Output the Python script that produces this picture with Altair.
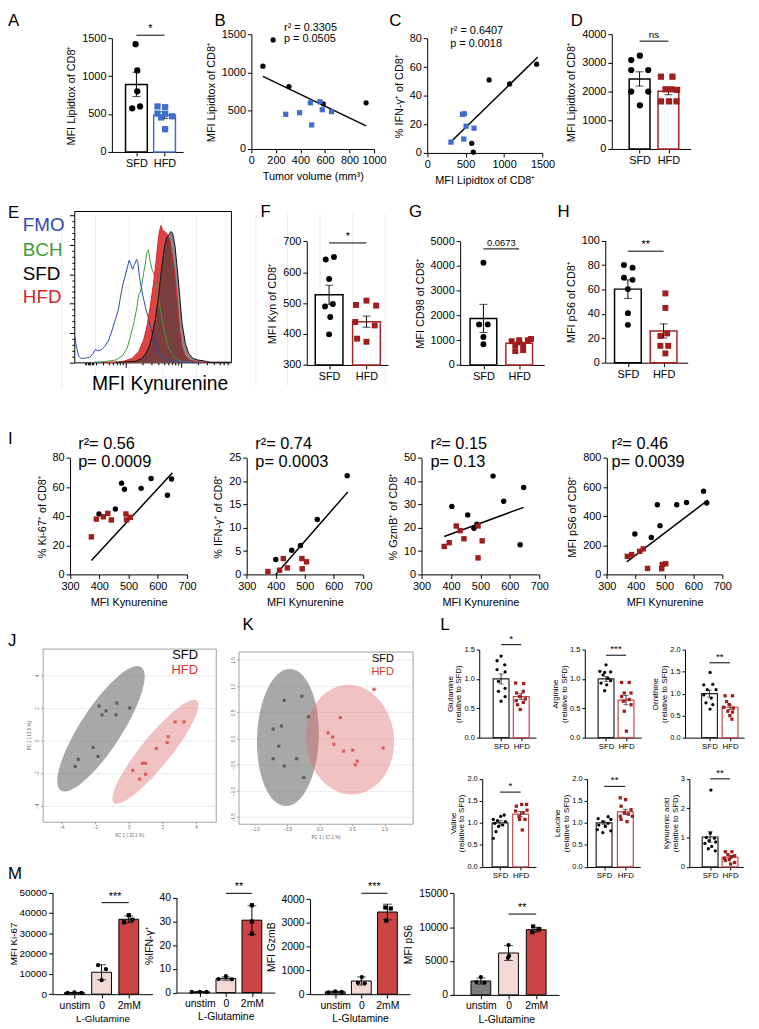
import json
import altair as alt
import pandas as pd

OFF = 8
W, H = 751, 1021
FONT = "Liberation Sans"
BLUE = "#3f6fcb"
DRED = "#a01d1d"
HRED = "#a82525"
LRED = "#c04848"

CATS2 = ["SFD", "HFD"]
CATS3 = ["unstim", "0", "2mM"]

# ---------------- A ----------------
A_means = [890, 485]
A_sems = [160, 45]
A_sfd_off = [-0.03, 0.03, 0.03, -0.15, 0.13]
A_sfd_val = [1420, 1075, 800, 575, 600]
A_hfd_off = [-0.25, 0.02, -0.25, 0.02, 0.27, -0.12, 0.02]
A_hfd_val = [600, 590, 505, 500, 470, 455, 300]

# ---------------- B ----------------
B_sfd_x = [94, 177, 306, 586, 935]
B_sfd_y = [1082, 1426, 815, 591, 604]
B_hfd_x = [280, 393, 481, 492, 559, 578, 653]
B_hfd_y = [453, 474, 604, 314, 617, 513, 487]
B_fit_x = [94, 935]
B_fit_y = [948, 302]

# ---------------- C ----------------
C_sfd_x = [805, 1072, 1423, 579, 600]
C_sfd_y = [51.0, 48.2, 62.0, 6.7, 0.5]
C_hfd_x = [309, 458, 484, 506, 476, 609]
C_hfd_y = [7.6, 27.0, 27.4, 18.7, 9.7, 17.3]
C_fit_x = [309, 1436]
C_fit_y = [7.8, 66.9]

# ---------------- D ----------------
D_means = [2440, 2010]
D_sems = [250, 120]
D_sfd_off = [0.01, -0.29, -0.29, 0.3, -0.29, 0.3, 0.01]
D_sfd_val = [3250, 3100, 2750, 2750, 2000, 2000, 1520]
D_hfd_off = [-0.26, 0.14, -0.1, 0.1, 0.3, -0.26, 0.02, 0.28]
D_hfd_val = [2520, 2520, 2080, 2080, 2060, 1660, 1660, 1660]

# ---------------- E (histogram, channel units / counts) ----------------
E_fmo_x = [46, 50, 58, 65, 78, 92, 102, 108, 118, 128, 138, 148, 158, 168, 178, 185, 192, 200,
           207, 211, 216, 222, 228, 234, 238, 243, 252, 262, 272, 280, 290, 300, 312, 325, 345,
           380, 420, 470, 518]
E_fmo_c = [82, 57, 19, 12, 13, 15, 27, 39, 35, 39, 49, 65, 92, 125, 157, 197, 235, 265, 292,
           309, 299, 282, 297, 312, 302, 257, 207, 162, 127, 92, 57, 32, 17, 9, 4, 1, 0, 0, 0]
E_bch_x = [100, 140, 170, 190, 205, 215, 225, 235, 240, 245, 250, 255, 260, 265, 270, 275, 280,
           285, 290, 300, 310, 320, 330, 345, 360, 380, 420, 518]
E_bch_c = [0, 3, 7, 19, 42, 77, 117, 167, 202, 212, 235, 269, 297, 332, 342, 307, 285, 272, 257,
           197, 137, 87, 47, 17, 7, 1, 0, 0]
E_hfd_x = [130, 190, 220, 240, 255, 265, 275, 285, 292, 298, 303, 308, 313, 320, 328, 335, 342,
           350, 358, 365, 372, 382, 395, 420, 460, 518]
E_hfd_c = [0, 2, 12, 32, 67, 107, 167, 237, 297, 357, 397, 415, 399, 397, 387, 372, 327, 267,
           177, 97, 47, 19, 7, 1, 0, 0]
E_sfd_x = [170, 230, 250, 262, 272, 280, 290, 300, 310, 318, 325, 333, 338, 343, 350, 358, 365,
           372, 382, 392, 405, 420, 435, 445, 460, 518]
E_sfd_c = [0, 3, 12, 27, 47, 77, 127, 197, 287, 347, 377, 389, 397, 392, 357, 277, 197, 117, 57,
           27, 12, 7, 5, 3, 0, 0]
E_y_major = [0, 89, 178, 267, 356, 445]
E_y_minor = [18, 36, 53, 71, 107, 125, 142, 160, 196, 214, 231, 249, 285, 303, 320, 338, 374,
             392, 409, 427]
E_x_major = [200, 368]
E_x_minor = [78, 82, 86, 90, 94, 98, 102, 112, 133, 149, 163, 174, 184, 192, 251, 280, 301, 317,
             331, 342, 352, 360, 419, 448, 469, 485, 499, 510]

# ---------------- F / G / H ----------------
F_means = [527, 440]
F_sems = [31, 18]
F_sfd_off = [-0.09, 0.13, 0.0, -0.11, 0.1, 0.03, 0.0]
F_sfd_val = [641, 649, 578, 489, 497, 455, 399]
F_hfd_off = [-0.28, 0.0, -0.3, 0.26, 0.22, -0.25, 0.0]
F_hfd_val = [494, 508, 439, 492, 428, 385, 375]

G_means = [1880, 880]
G_sems = [570, 70]
G_sfd_off = [0.0, -0.12, 0.12, 0.0, 0.0]
G_sfd_val = [4130, 1640, 1640, 1130, 840]
G_hfd_off = [-0.21, 0.0, 0.24, -0.11, 0.11, -0.11, 0.11, 0.33]
G_hfd_val = [960, 1000, 1000, 800, 800, 560, 600, 1050]

H_means = [60.3, 26.0]
H_sems = [7.6, 5.8]
H_sfd_off = [-0.11, 0.13, -0.11, 0.13, 0.0, 0.0, 0.0]
H_sfd_val = [80, 77.9, 69.7, 67.9, 60.3, 40.6, 31]
H_hfd_off = [0.05, 0.05, 0.1, -0.09, -0.09, 0.13, 0.05]
H_hfd_val = [56.8, 44.9, 24, 21.9, 13.8, 13.8, 7.6]

# ---------------- I ----------------
I1_sfd_x = [476, 486, 543, 577, 647, 633, 455, 399]
I1_sfd_y = [62.7, 58.5, 59.1, 65.9, 65.5, 54.4, 44.9, 41.5]
I1_hfd_x = [373, 390, 414, 429, 441, 491, 493, 506]
I1_hfd_y = [25.8, 38, 39.6, 41.9, 37.4, 41.5, 37.4, 39.2]
I1_fit_x = [373, 650]
I1_fit_y = [9.5, 69.8]

I2_sfd_x = [646, 543, 485, 455, 400]
I2_sfd_y = [21.2, 11.8, 6.2, 5.2, 3.2]
I2_hfd_x = [373, 413, 426, 440, 490, 491, 506]
I2_hfd_y = [0.6, 0.9, 3.4, 1.4, 3.4, 1.2, 2.7]
I2_fit_x = [400, 648]
I2_fit_y = [0, 17.7]

I3_sfd_x = [543, 579, 647, 403, 457, 488, 478, 635]
I3_sfd_y = [42.2, 31.4, 37.3, 29.2, 25.5, 21.5, 19.8, 12.7]
I3_hfd_x = [377, 394, 418, 431, 444, 492, 506, 492]
I3_hfd_y = [12.0, 13.6, 20.8, 18.8, 15.3, 20.8, 14.4, 7.1]
I3_fit_x = [377, 647]
I3_fit_y = [16.3, 28.8]

I4_sfd_x = [635, 646, 576, 542, 475, 484, 454, 397]
I4_sfd_y = [571, 491, 494, 478, 478, 335, 254, 277]
I4_hfd_x = [371, 386, 414, 426, 441, 490, 492, 504]
I4_hfd_y = [124, 136, 158, 175, 41, 39, 68, 73]
I4_fit_x = [369, 650]
I4_fit_y = [86, 510]

# ---------------- J / K (PCA) ----------------
J_gray_x = [-1.76, -0.71, -1.35, -1.59, -0.76, 0.06, -2.12, -1.82, -3.0, -3.18]
J_gray_y = [2.12, 2.3, 1.82, 1.58, 1.58, 2.0, -0.42, -0.97, -1.15, -1.58]
J_pink_x = [2.76, 3.29, 2.35, 2.29, 1.65, 0.82, 1.0, 0.24, 1.0, 0.65]
J_pink_y = [1.15, 1.15, 0.24, -0.12, -0.48, -1.39, -1.39, -1.82, -2.06, -2.36]
J_ell_cx = [-1.65, 1.59]
J_ell_cy = [0.73, -0.68]

K_gray_x = [-0.545, -0.275, -0.173, -0.718, -0.590, -0.630, -0.718, -0.355, -0.545, -0.244]
K_gray_y = [0.73, 0.81, 0.415, 0.183, 0.240, -0.145, -0.383, -0.383, -0.523, -0.742]
K_pink_x = [0.84, 0.32, 0.13, 0.20, 0.22, 0.37, 0.51, 0.98, 0.58, 0.55]
K_pink_y = [0.94, 0.40, 0.11, 0.03, -0.11, -0.24, -0.22, -0.18, -0.43, -0.50]
K_ell_cx = [-0.49, 0.47]
K_ell_cy = [0.02, -0.02]

# ---------------- L ----------------
Glu_means, Glu_sems = [1.0, 0.70], [0.085, 0.05]
Glu_sfd_off = [0, -0.2, 0.18, -0.2, 0.2, -0.13, 0.2, -0.13, 0.2, 0]
Glu_sfd_val = [1.39, 1.31, 1.24, 1.16, 1.12, 0.96, 0.84, 0.79, 0.70, 0.62]
Glu_hfd_off = [-0.28, 0.12, 0.1, -0.23, -0.08, 0.2, -0.25, 0.1, -0.18, -0.05]
Glu_hfd_val = [0.93, 0.92, 0.79, 0.76, 0.70, 0.66, 0.63, 0.60, 0.56, 0.48]

Arg_means, Arg_sems = [1.0, 0.64], [0.04, 0.08]
Arg_sfd_off = [0, -0.31, -0.07, 0.23, -0.15, 0.1, 0.23, -0.25, 0.03, -0.07]
Arg_sfd_val = [1.24, 1.13, 1.11, 1.12, 1.07, 1.01, 0.97, 0.93, 0.90, 0.80]
Arg_hfd_off = [-0.22, 0.16, -0.09, 0.25, -0.22, 0.16, -0.13, 0.25, -0.09, 0.02]
Arg_hfd_val = [0.94, 0.94, 0.76, 0.76, 0.70, 0.65, 0.62, 0.56, 0.45, 0.11]

Orn_means, Orn_sems = [1.0, 0.69], [0.08, 0.05]
Orn_sfd_off = [0.03, -0.28, 0.16, -0.11, 0.32, -0.27, 0.09, -0.17, 0.16, 0.03]
Orn_sfd_val = [1.48, 1.20, 1.21, 1.09, 1.09, 0.97, 0.90, 0.79, 0.75, 0.65]
Orn_hfd_off = [-0.24, 0.12, -0.17, -0.04, -0.31, 0.16, -0.11, 0.12, -0.01, 0.09]
Orn_hfd_val = [0.95, 0.95, 0.82, 0.75, 0.69, 0.67, 0.60, 0.58, 0.50, 0.42]

Val_means, Val_sems = [1.0, 1.2], [0.05, 0.06]
Val_sfd_off = [0.2, 0.03, -0.33, -0.13, 0.26, -0.26, 0.13, -0.07, -0.2, -0.33]
Val_sfd_val = [1.18, 1.15, 1.08, 1.05, 1.03, 0.99, 0.95, 0.92, 0.80, 0.65]
Val_hfd_off = [0.05, 0.29, -0.21, 0.31, -0.24, 0.12, -0.08, -0.05, 0.21, 0.08]
Val_hfd_val = [1.42, 1.42, 1.38, 1.29, 1.27, 1.23, 1.15, 1.08, 1.08, 0.84]

Leu_means, Leu_sems = [1.0, 1.25], [0.04, 0.06]
Leu_sfd_off = [0.19, -0.28, 0.32, -0.06, 0.19, -0.25, 0.06, -0.32, 0.32, -0.06]
Leu_sfd_val = [1.14, 1.10, 1.08, 1.03, 0.99, 0.95, 0.92, 0.85, 0.82, 0.78]
Leu_hfd_off = [-0.24, 0.01, -0.2, 0.27, -0.05, 0.14, -0.24, 0.33, -0.2, 0.08]
Leu_hfd_val = [1.57, 1.53, 1.38, 1.30, 1.23, 1.20, 1.15, 1.15, 1.08, 1.03]

Kyn_means, Kyn_sems = [1.02, 0.33], [0.18, 0.045]
Kyn_sfd_off = [0.04, 0.01, -0.19, 0.22, -0.05, 0.28, -0.26, 0.08, -0.09, 0.26]
Kyn_sfd_val = [2.62, 1.15, 1.0, 0.98, 0.90, 0.85, 0.80, 0.70, 0.62, 0.55]
Kyn_hfd_off = [-0.24, 0.09, -0.11, 0.23, 0.07, -0.28, -0.04, -0.24, 0.23, 0.03]
Kyn_hfd_val = [0.52, 0.52, 0.42, 0.38, 0.35, 0.30, 0.25, 0.22, 0.15, 0.10]

# ---------------- M ----------------
M1_means, M1_sd = [760, 10800, 36900], [120, 3700, 1700]
M1_pts = [([-0.25, 0, 0.26], [700, 900, 700]), ([-0.13, 0.16, 0], [14300, 12300, 6900]),
          ([0, 0.13, -0.17], [38900, 36700, 35400])]
M2_means, M2_sd = [0.3, 5.9, 30.5], [0.1, 0.7, 6.1]
M2_pts = [([-0.31, 0, 0.26], [0.3, 0.35, 0.3]), ([-0.28, 0, 0.23], [5.7, 6.9, 5.6]),
          ([0, 0, 0], [36.8, 29.9, 24.8])]
M3_means, M3_sd = [100, 555, 3460], [25, 170, 330]
M3_pts = [([-0.26, 0, 0.25], [80, 120, 95]), ([0.02, -0.13, 0.13], [720, 480, 460]),
          ([-0.08, 0.13, -0.04], [3650, 3610, 3100])]
M4_means, M4_sd = [2050, 6180, 9620], [450, 1100, 350]
M4_pts = [([0, -0.16, 0.13], [2630, 1900, 1800]), ([0, 0.02, -0.02], [7350, 5750, 5450]),
          ([-0.11, 0.11, -0.14], [10100, 9720, 9250])]
M_fills = ["#7c7c7c", "#f3d8d8", "#cc4545"]


# ======================= helpers =======================
def P(v):
    return round(v - OFF, 2)


def lin(d0, d1, p0, p1):
    return alt.Scale(domain=[d0, d1], range=[P(p0), P(p1)], nice=False, zero=False)


def cat_scale(n, cpos, xl, xr):
    s = (cpos[-1] - cpos[0]) / (n - 1)
    return lin(1 - (cpos[0] - xl) / s, n + (xr - cpos[-1]) / s, xl, xr)


def yax(xpos, values, title, fs=11, tfs=11, fmt='d', tick=4, tpad=5, **kw):
    return alt.Axis(orient='left', offset=-P(xpos), values=values, title=title, format=fmt,
                    labelFontSize=fs, titleFontSize=tfs, tickSize=tick, titlePadding=tpad, **kw)


def xax(ypos, values, title, fs=11, tfs=11, fmt='d', tick=4, tpad=5, **kw):
    return alt.Axis(orient='bottom', offset=P(ypos) - H, values=values, title=title, format=fmt,
                    labelFontSize=fs, titleFontSize=tfs, tickSize=tick, titlePadding=tpad, **kw)


def txt(s, x, y, fs, color='black', align='left', baseline='middle'):
    return alt.Chart(pd.DataFrame({'t': [s]})).mark_text(
        align=align, baseline=baseline, fontSize=fs, font=FONT, color=color
    ).encode(x=alt.value(P(x)), y=alt.value(P(y)), text='t:N')


def bar_panel(xl, xr, yb, yt, ydom, yticks, cpos, cats, means, errs, fills, strokes,
              groups, ytitle, sig=None, base=0, barw=22, fs=11, tfs=11, lfs=11,
              psize=40, capw=8, sw=1.5, lw=1.0, yfmt='d', xtitle=None, tick=4,
              ytpad=5, xtpad=3, sigfs=11, tline=11):
    n = len(cats)
    xs = cat_scale(n, cpos, xl, xr)
    ys = lin(ydom[0], ydom[1], yb, yt)
    idx = list(range(1, n + 1))
    bd = pd.DataFrame({'x': idx, 'm': means,
                       'lo': [m - e for m, e in zip(means, errs)],
                       'hi': [m + e for m, e in zip(means, errs)],
                       'fill': fills, 'stroke': strokes})
    lab = json.dumps([''] + cats) + '[datum.value]'
    xa = xax(yb, idx, xtitle, fs=lfs, tfs=tfs, tick=tick, tpad=xtpad, labelExpr=lab)
    ya = yax(xl, yticks, ytitle, fs=fs, tfs=tfs, fmt=yfmt, tick=tick, tpad=ytpad,
             titleLineHeight=tline)

    def X(f):
        return alt.X(f, scale=xs, axis=xa)

    def Y(f):
        return alt.Y(f, scale=ys, axis=ya)

    ls = [
        alt.Chart(bd).mark_bar(size=barw, strokeWidth=sw, orient='vertical').encode(
            x=X('x:Q'), y=Y('m:Q'), y2=alt.datum(base),
            fill=alt.Fill('fill:N', scale=None), stroke=alt.Stroke('stroke:N', scale=None)),
        alt.Chart(bd).mark_rule(color='black', strokeWidth=lw).encode(
            x=X('x:Q'), y=Y('lo:Q'), y2='hi:Q'),
        alt.Chart(bd).mark_tick(orient='horizontal', size=capw, thickness=lw, color='black').encode(
            x=X('x:Q'), y=Y('hi:Q')),
        alt.Chart(bd).mark_tick(orient='horizontal', size=capw, thickness=lw, color='black').encode(
            x=X('x:Q'), y=Y('lo:Q')),
    ]
    rows = []
    for gi, (offs, vals, shape, color) in enumerate(groups):
        for o, v in zip(offs, vals):
            rows.append({'x': gi + 1 + o, 'y': v, 'shape': shape, 'color': color})
    pdf = pd.DataFrame(rows)
    ls.append(alt.Chart(pdf).mark_point(filled=True, size=psize, opacity=1).encode(
        x=X('x:Q'), y=Y('y:Q'), shape=alt.Shape('shape:N', scale=None),
        color=alt.Color('color:N', scale=None)))
    if sig:
        a, b, yv, label = sig
        sd = pd.DataFrame({'x': [a], 'x2': [b], 'y': [yv], 'xm': [(a + b) / 2], 't': [label]})
        ls.append(alt.Chart(sd).mark_rule(color='black', strokeWidth=1).encode(
            x=X('x:Q'), x2='x2:Q', y=Y('y:Q')))
        ls.append(alt.Chart(sd).mark_text(baseline='bottom', dy=-1, fontSize=sigfs, font=FONT,
                                          color='black').encode(
            x=X('xm:Q'), y=Y('y:Q'), text='t:N'))
    return [alt.layer(*ls)]


def scatter_panel(xl, xr, yb, yt, xdom, ydom, xticks, yticks, xtitle, ytitle, groups, fit,
                  psize=30, fs=11, xtpad=5, ytpad=5):
    xs = lin(xdom[0], xdom[1], xl, xr)
    ys = lin(ydom[0], ydom[1], yb, yt)
    xa = xax(yb, xticks, xtitle, fs=fs, tfs=fs, tpad=xtpad)
    ya = yax(xl, yticks, ytitle, fs=fs, tfs=fs, tpad=ytpad)
    fd = pd.DataFrame({'x': fit[0], 'y': fit[1]})
    ls = [alt.Chart(fd).mark_line(color='black', strokeWidth=1.5).encode(
        x=alt.X('x:Q', scale=xs, axis=xa), y=alt.Y('y:Q', scale=ys, axis=ya))]
    for xv, yv, shape, color in groups:
        d = pd.DataFrame({'x': xv, 'y': yv})
        ls.append(alt.Chart(d).mark_point(filled=True, shape=shape, size=psize, color=color,
                                          opacity=1).encode(
            x=alt.X('x:Q', scale=xs, axis=xa), y=alt.Y('y:Q', scale=ys, axis=ya)))
    return [alt.layer(*ls)]


def hist_panel():
    box = (75, 233.3, 360.7, 207.7)
    xs = lambda: lin(45, 520, box[0], box[1])
    ys = lambda: lin(0, 459, box[2], box[3])
    ya = alt.Axis(orient='left', offset=-P(box[0]), values=E_y_major, labels=False, title=None,
                  tickSize=5)
    xa = alt.Axis(orient='bottom', offset=P(box[2]) - H, values=E_x_major, labels=False,
                  title=None, tickSize=5)
    sx, sy = xs(), ys()

    def area(xv, cv, color, op):
        d = pd.DataFrame({'x': xv, 'c': cv})
        return alt.Chart(d).mark_area(color=color, opacity=op, interpolate='linear').encode(
            x=alt.X('x:Q', scale=sx, axis=xa), y=alt.Y('c:Q', scale=sy, axis=ya),
            y2=alt.datum(0))

    def line(xv, cv, color):
        d = pd.DataFrame({'x': xv, 'c': cv})
        return alt.Chart(d).mark_line(color=color, strokeWidth=1).encode(
            x=alt.X('x:Q', scale=sx, axis=xa), y=alt.Y('c:Q', scale=sy, axis=ya))

    main = alt.layer(
        area(E_hfd_x, E_hfd_c, '#dc4444', 1.0),
        area(E_sfd_x, E_sfd_c, '#3a3a3a', 0.6),
        line(E_bch_x, E_bch_c, '#3f9a3a'),
        line(E_fmo_x, E_fmo_c, '#2d49b0'),
        line(E_hfd_x, E_hfd_c, '#d42626'),
        line(E_sfd_x, E_sfd_c, '#111111'),
    )
    dummy = pd.DataFrame({'a': [100], 'b': [100]})
    minor = alt.Chart(dummy).mark_point(opacity=0).encode(
        x=alt.X('a:Q', scale=xs(), axis=alt.Axis(orient='bottom', offset=P(box[2]) - H,
                                                  values=E_x_minor, labels=False, domain=False,
                                                  title=None, tickSize=2.5)),
        y=alt.Y('b:Q', scale=ys(), axis=alt.Axis(orient='left', offset=-P(box[0]),
                                                  values=E_y_minor, labels=False, domain=False,
                                                  title=None, tickSize=2.5)))
    frame = alt.Chart(dummy).mark_point(opacity=0).encode(
        x=alt.X('a:Q', scale=xs(), axis=alt.Axis(orient='top', offset=-P(box[3]), values=[],
                                                  labels=False, ticks=False, title=None)),
        y=alt.Y('b:Q', scale=ys(), axis=alt.Axis(orient='right', offset=P(box[1]) - W, values=[],
                                                  labels=False, ticks=False, title=None)))
    return [main, minor, frame]


def ell_path(r):
    return f"M 0 -1 A {r} 1 0 1 1 0 1 A {r} 1 0 1 1 0 -1 Z"


def pca_panel(box, xdom, ydom, xticks, yticks, fmt, xtitle, ytitle, ells, gray, pink):
    xl, xr, yb, yt = box
    xs = lambda: lin(xdom[0], xdom[1], xl, xr)
    ys = lambda: lin(ydom[0], ydom[1], yb, yt)
    com = dict(grid=True, gridColor='#e4e4e4', gridWidth=0.7, domainColor='#a0a0a0',
               tickColor='#a0a0a0', tickSize=2, labelFontSize=4.5, titleFontSize=4.5,
               labelColor='#666666', titleColor='#666666', format=fmt, labelPadding=1,
               titlePadding=3)
    xa = alt.Axis(orient='bottom', offset=P(yb) - H, values=xticks, title=xtitle, **com)
    ya = alt.Axis(orient='left', offset=-P(xl), values=yticks, title=ytitle, labelAngle=270,
                  **com)
    sx, sy = xs(), ys()
    dummy = pd.DataFrame({'a': [0], 'b': [0]})
    ls = [alt.Chart(dummy).mark_point(opacity=0).encode(
        x=alt.X('a:Q', scale=sx, axis=xa), y=alt.Y('b:Q', scale=sy, axis=ya))]
    for cx, cy, size, angle, ratio, color, op in ells:
        d = pd.DataFrame({'x': [cx], 'y': [cy]})
        ls.append(alt.Chart(d).mark_point(shape=ell_path(ratio), size=size, angle=angle,
                                          filled=True, color=color, opacity=op,
                                          strokeWidth=0).encode(
            x=alt.X('x:Q', scale=sx, axis=xa), y=alt.Y('y:Q', scale=sy, axis=ya)))
    for (xv, yv), color in ((gray, '#5e5e5e'), (pink, '#e05a5a')):
        d = pd.DataFrame({'x': xv, 'y': yv})
        ls.append(alt.Chart(d).mark_point(shape='square', filled=True, size=10, color=color,
                                          opacity=1).encode(
            x=alt.X('x:Q', scale=sx, axis=xa), y=alt.Y('y:Q', scale=sy, axis=ya)))
    frame = alt.Chart(dummy).mark_point(opacity=0).encode(
        x=alt.X('a:Q', scale=xs(), axis=alt.Axis(orient='top', offset=-P(yt), values=[],
                                                  labels=False, ticks=False, title=None,
                                                  domainColor='#a0a0a0')),
        y=alt.Y('b:Q', scale=ys(), axis=alt.Axis(orient='right', offset=P(xr) - W, values=[],
                                                  labels=False, ticks=False, title=None,
                                                  domainColor='#a0a0a0')))
    return [alt.layer(*ls), frame]


# ======================= build =======================
layers = []

# Row 1
layers += bar_panel(113, 185, 148, 33, [0, 1500], [0, 500, 1000, 1500], [136, 169], CATS2,
                    A_means, A_sems, ['white', 'white'], ['black', BLUE],
                    [(A_sfd_off, A_sfd_val, 'circle', 'black'),
                     (A_hfd_off, A_hfd_val, 'square', BLUE)],
                    'MFI Lipidtox of CD8⁺', sig=(1, 2, 1539, '*'), barw=22, psize=40)
layers += scatter_panel(254, 378, 145, 29, [0, 1000], [0, 1500], [0, 200, 400, 600, 800, 1000],
                        [0, 500, 1000, 1500], 'Tumor volume (mm³)', 'MFI Lipidtox of CD8⁺',
                        [(B_sfd_x, B_sfd_y, 'circle', 'black'),
                         (B_hfd_x, B_hfd_y, 'square', BLUE)], (B_fit_x, B_fit_y), psize=28)
layers += scatter_panel(431.7, 548.3, 149, 33.3, [0, 1500], [0, 80], [0, 500, 1000, 1500],
                        [0, 20, 40, 60, 80], 'MFI Lipidtox of CD8⁺', '% IFN-γ⁺ of CD8⁺',
                        [(C_sfd_x, C_sfd_y, 'circle', 'black'),
                         (C_hfd_x, C_hfd_y, 'square', BLUE)], (C_fit_x, C_fit_y), psize=28)
layers += bar_panel(618.3, 698, 145, 29, [0, 4000], [0, 1000, 2000, 3000, 4000], [644.7, 678],
                    CATS2, D_means, D_sems, ['white', 'white'], ['black', HRED],
                    [(D_sfd_off, D_sfd_val, 'circle', 'black'),
                     (D_hfd_off, D_hfd_val, 'square', DRED)],
                    'MFI Lipidtox of CD8⁺', sig=(1, 2, 3759, 'ns'), barw=21, psize=40, sigfs=10)

# Row 2
layers += hist_panel()
layers += bar_panel(310, 392, 363.3, 238.3, [300, 700], [300, 400, 500, 600, 700], [330, 373],
                    CATS2, F_means, F_sems, ['white', 'white'], ['black', HRED],
                    [(F_sfd_off, F_sfd_val, 'circle', 'black'),
                     (F_hfd_off, F_hfd_val, 'square', DRED)],
                    'MFI Kyn of CD8⁺', sig=(1, 2, 694.6, '*'), base=300, barw=28, psize=36)
layers += bar_panel(465, 550, 363.3, 238.3, [0, 5000], [0, 1000, 2000, 3000, 4000, 5000],
                    [486, 527], CATS2, G_means, G_sems, ['white', 'white'], ['black', HRED],
                    [(G_sfd_off, G_sfd_val, 'circle', 'black'),
                     (G_hfd_off, G_hfd_val, 'square', DRED)],
                    'MFI CD98 of CD8⁺', sig=(1, 2, 4692, '0.0673'), barw=27, psize=36, sigfs=9.5)
layers += bar_panel(611.7, 695, 361, 237.7, [0, 100], [0, 20, 40, 60, 80, 100], [632, 673],
                    CATS2, H_means, H_sems, ['white', 'white'], ['black', HRED],
                    [(H_sfd_off, H_sfd_val, 'circle', 'black'),
                     (H_hfd_off, H_hfd_val, 'square', DRED)],
                    'MFI pS6 of CD8⁺', sig=(1, 2, 91.4, '**'), barw=27, psize=36)

# Row 3 (I)
KX = [300, 400, 500, 600, 700]
for (xl, xr, ydom, yt_, ytitle, sx, sy, hx, hy, fx, fy) in [
    (70.7, 189, [0, 80], [0, 20, 40, 60, 80], '% Ki-67⁺ of CD8⁺', I1_sfd_x, I1_sfd_y, I1_hfd_x,
     I1_hfd_y, I1_fit_x, I1_fit_y),
    (249.3, 366.7, [0, 25], [0, 5, 10, 15, 20, 25], '% IFN-γ⁺ of CD8⁺', I2_sfd_x, I2_sfd_y,
     I2_hfd_x, I2_hfd_y, I2_fit_x, I2_fit_y),
    (426, 545, [0, 50], [0, 10, 20, 30, 40, 50], '% GzmB⁺ of CD8⁺', I3_sfd_x, I3_sfd_y,
     I3_hfd_x, I3_hfd_y, I3_fit_x, I3_fit_y),
    (613.3, 730, [0, 800], [0, 200, 400, 600, 800], 'MFI pS6 of CD8⁺', I4_sfd_x, I4_sfd_y,
     I4_hfd_x, I4_hfd_y, I4_fit_x, I4_fit_y),
]:
    layers += scatter_panel(xl, xr, 575, 457.3, [300, 700], ydom, KX, yt_, 'MFI Kynurenine',
                            ytitle, [(sx, sy, 'circle', 'black'), (hx, hy, 'square', DRED)],
                            (fx, fy), psize=30)

# Row 4: J, K
layers += pca_panel((43, 218, 825, 650), [-5.12, 5.18], [-4.97, 5.64], [-4, -2, 0, 2, 4],
                    [-4, -2, 0, 2, 4], 'd', 'PC 1 ( 32.1 %)', 'PC 2 ( 13.5 %)',
                    [(J_ell_cx[0], J_ell_cy[0], 22201, 33, 0.28, '#6e6e6e', 0.6),
                     (J_ell_cx[1], J_ell_cy[1], 17742, 39, 0.225, '#d96666', 0.4)],
                    (J_gray_x, J_gray_y), (J_pink_x, J_pink_y))
layers += pca_panel((241, 417, 827, 653), [-1.252, 1.435], [-1.623, 1.660],
                    [-1.0, -0.5, 0.0, 0.5, 1.0], [-1.5, -1.0, -0.5, 0.0, 0.5, 1.0, 1.5], '.1f',
                    'PC 1 ( 37.1 %)', None,
                    [(K_ell_cx[0], K_ell_cy[0], 19210, 2, 0.45, '#6e6e6e', 0.6),
                     (K_ell_cx[1], K_ell_cy[1], 12321, 355, 0.80, '#d96666', 0.4)],
                    (K_gray_x, K_gray_y), (K_pink_x, K_pink_y))

# Row 4: L
Lkw = dict(fs=7.5, tfs=8, lfs=8, tick=3, psize=11, capw=5, sw=1.2, lw=0.8, ytpad=1, tline=9,
           sigfs=10, xtpad=2)
REL = '(relative to SFD)'
for (xl, xr, yb, yt, ydom, yticks, cpos, means, sems, so, sv, ho, hv, name, sig, fmt) in [
    (484.3, 541.7, 740, 651, [0, 1.5], [0, 0.5, 1.0, 1.5], [505, 529.7], Glu_means, Glu_sems,
     Glu_sfd_off, Glu_sfd_val, Glu_hfd_off, Glu_hfd_val, 'Glutamine', (1, 2, 1.584, '*'), '.1f'),
    (591, 648, 740, 651, [0, 1.5], [0, 0.5, 1.0, 1.5], [611, 635.5], Arg_means, Arg_sems,
     Arg_sfd_off, Arg_sfd_val, Arg_hfd_off, Arg_hfd_val, 'Arginine', (1, 2, 1.404, '***'), '.1f'),
    (692.3, 752, 740, 651, [0, 2.0], [0, 0.5, 1.0, 1.5, 2.0], [716, 741], Orn_means, Orn_sems,
     Orn_sfd_off, Orn_sfd_val, Orn_hfd_off, Orn_hfd_val, 'Ornithine', (1, 2, 1.70, '**'), '.1f'),
    (487.3, 541.7, 870.7, 781.7, [0, 2.0], [0, 0.5, 1.0, 1.5, 2.0], [503.3, 528.8], Val_means,
     Val_sems, Val_sfd_off, Val_sfd_val, Val_hfd_off, Val_hfd_val, 'Valine',
     (1, 2, 1.70, '*'), '.1f'),
    (593.3, 647, 870.7, 781.7, [0, 2.0], [0, 0.5, 1.0, 1.5, 2.0], [608.3, 634.7], Leu_means,
     Leu_sems, Leu_sfd_off, Leu_sfd_val, Leu_hfd_off, Leu_hfd_val, 'Leucine',
     (1, 2, 1.83, '**'), '.1f'),
    (696.7, 751, 870.7, 781.7, [0, 3], [0, 1, 2, 3], [716.3, 741], Kyn_means, Kyn_sems,
     Kyn_sfd_off, Kyn_sfd_val, Kyn_hfd_off, Kyn_hfd_val, 'Kynurenic acid', (1, 2, 3.0, '**'),
     'd'),
]:
    layers += bar_panel(xl, xr, yb, yt, ydom, yticks, cpos, CATS2, means, sems,
                        ['white', 'white'], ['#222222', LRED],
                        [(so, sv, 'circle', 'black'), (ho, hv, 'square', DRED)],
                        [name, REL], sig=sig, barw=16, yfmt=fmt, **Lkw)

# Row 5: M
Mkw = dict(lfs=10.5, tick=4, psize=18, capw=9, sw=1, lw=1, barw=20,
           xtitle='L-Glutamine', xtpad=3, sigfs=11)
for (xl, xr, yb, yt, ydom, yticks, cpos, means, sds, pts, ytitle, sig, extra) in [
    (53, 154, 999.3, 896.7, [0, 50000], [0, 10000, 20000, 30000, 40000, 50000],
     [72, 102.5, 133], M1_means, M1_sd, M1_pts, 'MFI Ki-67', (2, 3, 45083, '***'),
     dict(fs=10, tfs=10, ytpad=1)),
    (178.3, 277.7, 997.7, 901.7, [0, 40], [0, 10, 20, 30, 40], [199, 228.3, 257.5], M2_means,
     M2_sd, M2_pts, '%IFN-γ⁺', (2, 3, 41.8, '**'), dict(fs=10.5, tfs=10.5)),
    (313.3, 414.5, 999.3, 903.3, [0, 4000], [0, 1000, 2000, 3000, 4000], [336, 365.5, 394.5],
     M3_means, M3_sd, M3_pts, 'MFI GzmB', (2, 3, 4250, '***'), dict(fs=10.5, tfs=10.5)),
    (458.3, 565, 1000, 897.3, [0, 15000], [0, 5000, 10000, 15000], [483.3, 514, 545],
     M4_means, M4_sd, M4_pts, 'MFI pS6', (2, 3, 11933, '**'), dict(fs=10.5, tfs=10.5)),
]:
    groups = [(pts[0][0], pts[0][1], 'circle', 'black'), (pts[1][0], pts[1][1], 'circle', 'black'),
              (pts[2][0], pts[2][1], 'square', 'black')]
    layers += bar_panel(xl, xr, yb, yt, ydom, yticks, cpos, CATS3, means, sds, M_fills,
                        ['black'] * 3, groups, ytitle, sig=sig, **Mkw, **extra)

# Text annotations
annots = [
    txt('A', 8, 21, 17, baseline='alphabetic'), txt('B', 216.7, 21, 17, baseline='alphabetic'),
    txt('C', 393.3, 21, 17, baseline='alphabetic'), txt('D', 576.7, 21, 17, baseline='alphabetic'),
    txt('E', 8, 215, 17, baseline='alphabetic'), txt('F', 263.3, 214, 17, baseline='alphabetic'),
    txt('G', 413.3, 214, 17, baseline='alphabetic'), txt('H', 563.3, 214, 17, baseline='alphabetic'),
    txt('I', 8, 443, 17, baseline='alphabetic'), txt('J', 8, 647, 17, baseline='alphabetic'),
    txt('K', 245, 631.7, 17, baseline='alphabetic'), txt('L', 445, 631.7, 17, baseline='alphabetic'),
    txt('M', 8, 883.3, 17, baseline='alphabetic'),
    txt('r² = 0.3305', 287, 22.7, 11), txt('p = 0.0505', 287, 34.3, 11),
    txt('r² = 0.6407', 455, 26, 11), txt('p = 0.0018', 455, 39.3, 11),
    txt('FMO', 23, 221.7, 19, color='#2d49b0'), txt('BCH', 23, 247, 19, color='#3f9a3a'),
    txt('SFD', 23, 271, 19), txt('HFD', 23, 295, 19, color='#d42626'),
    txt('MFI Kynurenine', 161.7, 383, 19.5, align='center'),
    txt('SFD', 200, 657, 13, align='right'), txt('HFD', 200, 671.5, 13, color='#e03030', align='right'),
    txt('SFD', 398, 660.7, 11, align='right'), txt('HFD', 398, 674, 11, color='#e03030', align='right'),
]
for x0, r2, pv in [(79, 'r²= 0.56', 'p= 0.0009'), (258, 'r²= 0.74', 'p= 0.0003'),
                   (435, 'r²= 0.15', 'p= 0.13'), (618, 'r²= 0.46', 'p= 0.0039')]:
    annots.append(txt(r2, x0, 443, 16.5))
    annots.append(txt(pv, x0, 461.7, 16.5))
layers += annots

chart = alt.layer(*layers).resolve_scale(x='independent', y='independent').properties(
    width=W, height=H, padding=0, autosize=alt.AutoSizeParams(type='none')
).configure_view(stroke=None).configure_axis(
    labelFont=FONT, titleFont=FONT, labelColor='black', titleColor='black', domainColor='black',
    tickColor='black', grid=False, titleFontWeight='normal', labelFlush=False,
    labelOverlap=False, labelPadding=2, domainWidth=1, tickWidth=1
)

chart.save("out.html", embed_options={"renderer": "svg", "actions": False})
